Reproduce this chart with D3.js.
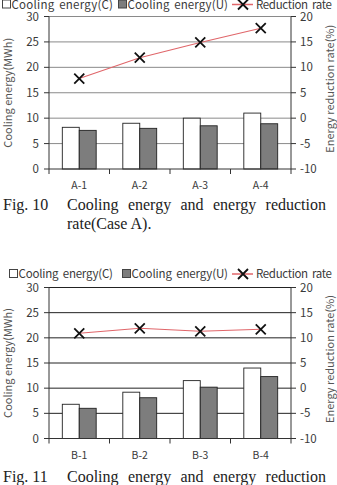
<!DOCTYPE html>
<html>
<head>
<meta charset="utf-8">
<script src="https://cdn.jsdelivr.net/npm/d3@7"></script>
<style>
  body { margin: 0; background: #fff; }
  svg { display: block; }
  .tick-lbl { font-family: "Noto Sans CJK KR", "Noto Sans", sans-serif; font-size: 11.5px; fill: #3a3a3a; }
  .legend-lbl { font-family: "Noto Sans CJK KR", "Noto Sans", sans-serif; font-size: 11.5px; fill: #3a3a3a; word-spacing: 2px; }
  .caption { font-family: "Liberation Serif", "DejaVu Serif", serif; font-size: 16px; fill: #222; }
</style>
</head>
<body>
<div id="chart"></div>
<script>
// chart values
const casesA = ['A-1', 'A-2', 'A-3', 'A-4'];
const coolingA_C = [8.2, 9.0, 10.0, 11.0];
const coolingA_U = [7.6, 8.0, 8.5, 8.9];
const reductionA = [7.8, 11.9, 14.9, 17.7];

const casesB = ['B-1', 'B-2', 'B-3', 'B-4'];
const coolingB_C = [6.8, 9.2, 11.5, 14.0];
const coolingB_U = [6.0, 8.1, 10.2, 12.3];
const reductionB = [10.9, 11.9, 11.3, 11.7];

const leftTicks = [0, 5, 10, 15, 20, 25, 30];
const rightTicks = [-10, -5, 0, 5, 10, 15, 20];
const seriesNames = ['Cooling energy(C)', 'Cooling energy(U)', 'Reduction rate'];

const W = 337, H = 485;
const svg = d3.select('#chart').append('svg').attr('width', W).attr('height', H);

// stretch a text to a given width by widening the gaps between words
function fitWords(sel, width) {
  const len = sel.node().getComputedTextLength();
  const gaps = sel.text().split(' ').length - 1;
  sel.style('word-spacing', Math.max(0, (width - len) / gaps) + 'px');
}

// same idea, but spread over every letter (legend labels)
function fitLetters(sel, width) {
  const len = sel.node().getComputedTextLength();
  const n = sel.text().length - 1;
  sel.style('letter-spacing', ((width - len) / n) + 'px');
}

// one figure: bars on left axis, reduction line on right axis
function drawFigure(opts) {
  const g = svg.append('g');
  const x0 = 49, x1 = 291;

  const x = d3.scaleBand().domain(opts.cats).range([x0, x1]).paddingInner(0.44).paddingOuter(0.22);
  const xSub = d3.scaleBand().domain(['C', 'U']).range([0, x.bandwidth()]);
  const yL = d3.scaleLinear().domain([0, 30]).range([opts.yBottom, opts.yTop]);
  const yR = d3.scaleLinear().domain([-10, 20]).range([opts.yBottom, opts.yTop]);

  // gridlines
  g.selectAll('line.grid').data(leftTicks.slice(1)).join('line')
    .attr('class', 'grid')
    .attr('x1', x0).attr('x2', x1)
    .attr('y1', d => yL(d)).attr('y2', d => yL(d))
    .attr('stroke', opts.gridColor).attr('stroke-width', 1);

  // bars
  const rows = opts.cats.map((c, i) => ({ cat: c, C: opts.c[i], U: opts.u[i] }));
  const grp = g.selectAll('g.cat').data(rows).join('g')
    .attr('transform', d => `translate(${x(d.cat)},0)`);
  grp.selectAll('rect').data(d => ['C', 'U'].map(k => ({ k, v: d[k] }))).join('rect')
    .attr('x', d => xSub(d.k))
    .attr('y', d => yL(d.v))
    .attr('width', xSub.bandwidth())
    .attr('height', d => yL(0) - yL(d.v))
    .attr('fill', d => d.k === 'C' ? '#ffffff' : '#7d7d7d')
    .attr('stroke', '#222').attr('stroke-width', 0.9);

  // axes (drawn by hand so ticks sit like the excel original)
  const axisCol = '#333';
  g.append('line').attr('x1', x0).attr('x2', x0).attr('y1', opts.yTop).attr('y2', opts.yBottom).attr('stroke', axisCol);
  g.append('line').attr('x1', x1).attr('x2', x1).attr('y1', opts.yTop).attr('y2', opts.yBottom).attr('stroke', axisCol);
  g.append('line').attr('x1', x0).attr('x2', x1).attr('y1', opts.yBottom).attr('y2', opts.yBottom).attr('stroke', axisCol);

  g.selectAll('line.lt').data(leftTicks).join('line')
    .attr('x1', x0 - 5).attr('x2', x0).attr('y1', d => yL(d)).attr('y2', d => yL(d)).attr('stroke', axisCol);
  g.selectAll('text.lt').data(leftTicks).join('text')
    .attr('class', 'tick-lbl').attr('text-anchor', 'end')
    .attr('x', x0 - 10).attr('y', d => yL(d) + 4).text(d => d);

  g.selectAll('line.rt').data(rightTicks).join('line')
    .attr('x1', x1).attr('x2', x1 + 5).attr('y1', d => yR(d)).attr('y2', d => yR(d)).attr('stroke', axisCol);
  g.selectAll('text.rt').data(rightTicks).join('text')
    .attr('class', 'tick-lbl').attr('text-anchor', 'start')
    .attr('x', x1 + 9).attr('y', d => yR(d) + 4).text(d => d);

  const bounds = x.domain().map(c => x(c) - x.step() * x.paddingInner() / 2).concat([x1]);
  g.selectAll('line.bt').data(bounds).join('line')
    .attr('x1', d => d).attr('x2', d => d)
    .attr('y1', opts.yBottom).attr('y2', opts.yBottom + 5).attr('stroke', axisCol);
  g.selectAll('text.cat').data(opts.cats).join('text')
    .attr('class', 'tick-lbl').attr('text-anchor', 'middle').style('font-size', '10.5px')
    .attr('x', d => x(d) + x.bandwidth() / 2).attr('y', opts.yBottom + 20).text(d => d);

  // axis titles
  const midY = (opts.yTop + opts.yBottom) / 2;
  g.append('text').attr('class', 'tick-lbl').style('font-size', '11px').style('fill', '#555')
    .attr('text-anchor', 'middle')
    .attr('transform', `translate(12,${midY}) rotate(-90)`).text('Cooling energy(MWh)');
  g.append('text').attr('class', 'tick-lbl').style('font-size', '11px').style('fill', '#555')
    .attr('text-anchor', 'middle')
    .attr('transform', `translate(334,${midY - 4}) rotate(-90)`).text('Energy reduction rate(%)');

  // reduction rate line + markers
  const cx = d => x(d) + x.bandwidth() / 2;
  const pts = opts.cats.map((c, i) => [cx(c), yR(opts.r[i])]);
  g.append('path').datum(pts).attr('d', d3.line())
    .attr('fill', 'none').attr('stroke', '#e0666a').attr('stroke-width', 1.1);
  g.selectAll('path.mk').data(pts).join('path')
    .attr('d', d => `M${d[0] - 5},${d[1] - 5}L${d[0] + 5},${d[1] + 5}M${d[0] - 5},${d[1] + 5}L${d[0] + 5},${d[1] - 5}`)
    .attr('stroke', '#111').attr('stroke-width', 1.8);

  // legend (positions differ a little between the two figures)
  const ly = opts.legendY, L = opts.legendX;
  const lg = g.append('g');
  lg.append('rect').attr('x', L[0]).attr('y', ly - 4.5).attr('width', 8).attr('height', 8)
    .attr('fill', '#fff').attr('stroke', '#444');
  fitLetters(lg.append('text').attr('class', 'legend-lbl').attr('x', L[0] + 9).attr('y', ly + 4).text(seriesNames[0]), 113 - L[0] - 9);
  lg.append('rect').attr('x', L[1]).attr('y', ly - 4.5).attr('width', 8).attr('height', 8)
    .attr('fill', '#7d7d7d').attr('stroke', '#444');
  fitLetters(lg.append('text').attr('class', 'legend-lbl').attr('x', L[1] + 9).attr('y', ly + 4).text(seriesNames[1]), 228 - L[1] - 9);
  lg.append('line').attr('x1', 232).attr('x2', 253).attr('y1', ly).attr('y2', ly)
    .attr('stroke', '#e0666a').attr('stroke-width', 1.5);
  lg.append('path').attr('d', `M238,${ly - 5}L248,${ly + 5}M238,${ly + 5}L248,${ly - 5}`)
    .attr('stroke', '#111').attr('stroke-width', 1.8);
  fitLetters(lg.append('text').attr('class', 'legend-lbl').attr('x', 256).attr('y', ly + 4).text(seriesNames[2]), 76);
}

drawFigure({ cats: casesA, c: coolingA_C, u: coolingA_U, r: reductionA,
  yTop: 16.5, yBottom: 169, legendY: 4.5, legendX: [2.5, 118.5], gridColor: '#8a8a8a' });
drawFigure({ cats: casesB, c: coolingB_C, u: coolingB_U, r: reductionB,
  yTop: 287.5, yBottom: 438.5, legendY: 274, legendX: [9.5, 122.5], gridColor: '#222' });

// captions: first line justified between x=67 and x=326
function caption(num, y, line2) {
  svg.append('text').attr('class', 'caption').attr('x', 3).attr('y', y).text(`Fig. ${num}`);
  fitWords(svg.append('text').attr('class', 'caption').attr('x', 67).attr('y', y)
    .text('Cooling energy and energy reduction'), 259);
  if (line2) svg.append('text').attr('class', 'caption').attr('x', 67).attr('y', y + 19).text(line2);
}
caption(10, 210, 'rate(Case A).');
caption(11, 482, null);
</script>
</body>
</html>
